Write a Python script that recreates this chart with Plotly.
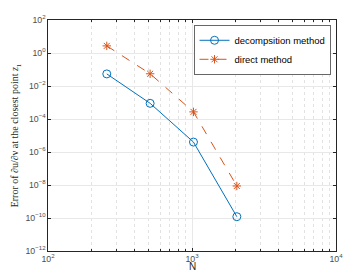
import plotly.graph_objects as go

N = [256, 512, 1024, 2048]
decomp_err = [0.054, 8.9e-4, 4.0e-6, 1.2e-10]
direct_err = [2.7, 0.055, 2.7e-4, 8.7e-9]

blue = "#0072BD"
orange = "#D95319"
axis_col = "#262626"

fig = go.Figure()
fig.add_trace(go.Scatter(x=N, y=decomp_err, mode="lines+markers", name="decompsition method",
                         line=dict(color=blue, width=1),
                         marker=dict(symbol="circle-open", size=8, color=blue, line=dict(width=1))))
fig.add_trace(go.Scatter(x=N, y=direct_err, mode="lines+markers", name="direct method",
                         line=dict(color=orange, width=1, dash="dash"),
                         marker=dict(symbol="asterisk-open", size=7, color=orange, line=dict(width=1, color=orange))))

# page body has an 8px margin; compensate in figure size / margins
fig.update_layout(
    width=355, height=265,
    margin=dict(l=40, r=27, t=12, b=22),
    plot_bgcolor="white", paper_bgcolor="white",
    font=dict(family="Liberation Sans, Arial", size=7, color=axis_col),
    showlegend=True,
    legend=dict(x=0.982, y=0.978, xanchor="right", yanchor="top",
                bordercolor=axis_col, borderwidth=0.7, bgcolor="white",
                font=dict(size=9.5, color="#000000"), tracegroupgap=0,
                itemwidth=30),
)
fig.add_annotation(text="N", xref="paper", yref="paper", x=0.5, y=0,
                   xanchor="center", yanchor="top", yshift=-9, showarrow=False,
                   borderpad=0,
                   font=dict(family="Liberation Sans, Arial", size=10, color=axis_col))
fig.update_xaxes(type="log", range=[2, 4], dtick=1, exponentformat="power",
                 showline=True, linecolor=axis_col, linewidth=1, mirror="ticks",
                 ticks="inside", ticklen=3, tickcolor=axis_col,
                 showgrid=True, gridcolor="#e8e8e8", gridwidth=1,
                 minor=dict(ticks="inside", ticklen=2, tickcolor=axis_col, showgrid=True,
                            gridcolor="#e2e2e2", griddash="dot", gridwidth=1),
                 tickfont=dict(size=7, color="#4d4d4d"),
                 automargin=False, zeroline=False)
fig.update_yaxes(type="log", range=[-12, 2], dtick=2, exponentformat="power",
                 labelalias={"1": "10<sup>0</sup>"},
                 showline=True, linecolor=axis_col, linewidth=1, mirror="ticks",
                 ticks="inside", ticklen=3, tickcolor=axis_col,
                 showgrid=True, gridcolor="#e8e8e8", gridwidth=1,
                 tickfont=dict(size=7, color="#4d4d4d"),
                 title=dict(text="Error of ∂u/∂ν at the closest point <i>z</i><sub>1</sub>",
                            font=dict(family="Liberation Serif, DejaVu Serif", size=10, color=axis_col),
                            standoff=4),
                 automargin=False, zeroline=False)

fig.write_html("out.html")
